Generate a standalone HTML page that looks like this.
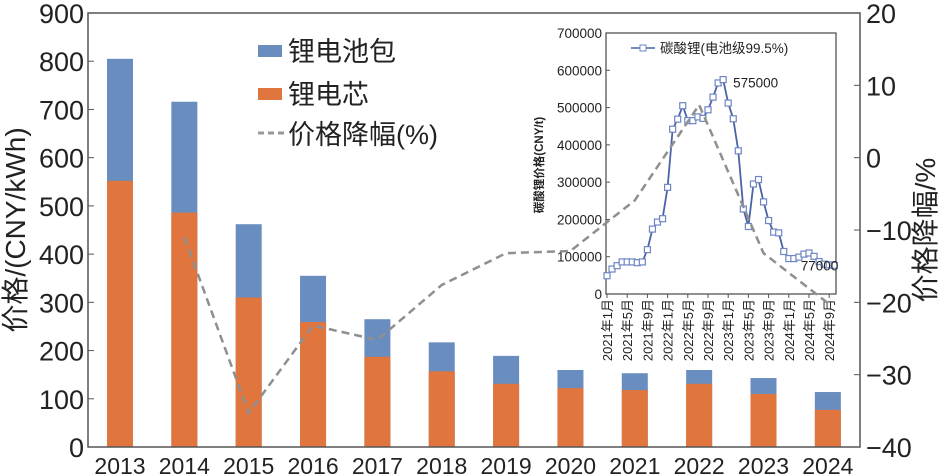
<!DOCTYPE html>
<html><head><meta charset="utf-8"><style>
html,body{margin:0;padding:0;background:#fff;}
svg{display:block;font-family:"Liberation Sans","Noto Sans CJK SC",sans-serif;}
</style></head><body>
<svg id="c" width="944" height="476" viewBox="0 0 944 476" xmlns="http://www.w3.org/2000/svg">
<g id="bars"></g>
<g id="axes"></g>
<g id="inset"></g>
<g id="pct"></g>
<g>
  <rect x="258" y="45" width="24" height="12" fill="#6a8dbf"/>
  <text x="288" y="61" font-size="27" fill="#222">锂电池包</text>
  <rect x="258" y="88" width="24" height="12" fill="#e0763e"/>
  <text x="288" y="104" font-size="27" fill="#222">锂电芯</text>
  <line x1="258" y1="133" x2="284" y2="133" stroke="#999" stroke-width="3" stroke-dasharray="6,4"/>
  <text x="288" y="144" font-size="27" fill="#222">价格降幅(%)</text>
</g>
</svg>
<script>
const years = ["2013","2014","2015","2016","2017","2018","2019","2020","2021","2022","2023","2024"];
const packPrice = [805,716,462,355,265,217,189,164,153,161,143,114];
const cellPrice = [552,486,310,259,187,157,131,122,118,131,110,77];
const declineYears = ["2014","2015","2016","2017","2018","2019","2020","2021","2022","2023","2024"];
const declinePct = [-11,-35.3,-23.2,-25.2,-17.6,-13.2,-12.9,-5.9,7.3,-13.2,-20.1];
const leftTicks = [0,100,200,300,400,500,600,700,800,900];
const rightTicks = [20,10,0,-10,-20,-30,-40];
const liPrice = [49000,67000,76000,86000,86000,86000,84000,86000,119000,174000,193000,202000,286000,442000,469000,505000,465000,465000,475000,471000,494000,528000,566000,575000,512000,470000,384000,228000,181000,295000,307000,247000,197000,166000,164000,114000,95000,95000,99000,107000,110000,101000,87000,80000,78000,77000];
const insetYTicks = [0,100000,200000,300000,400000,500000,600000,700000];
const insetXLabels = ["2021年1月","2021年5月","2021年9月","2022年1月","2022年5月","2022年9月","2023年1月","2023年5月","2023年9月","2024年1月","2024年5月","2024年9月"];

const NS="http://www.w3.org/2000/svg";
function mk(p,t,a){const e=document.createElementNS(NS,t);for(const k in a)e.setAttribute(k,a[k]);p.appendChild(e);return e;}
const L=88,R=860,T=13,B=447;
const x=i=>120+i*64.35;
const yL=v=>B-v*(B-T)/900;
const yR=v=>T+(20-v)*(B-T)/60;

const bars=document.getElementById('bars');
years.forEach((yr,i)=>{
  const p=mk(bars,'rect',{x:x(i)-13,y:yL(packPrice[i]),width:26,height:yL(0)-yL(packPrice[i]),fill:'#6a8dbf'});
  
  
  const c=mk(bars,'rect',{x:x(i)-13,y:yL(cellPrice[i]),width:26,height:yL(0)-yL(cellPrice[i]),fill:'#e0763e'});
  
  
});

const ax=document.getElementById('axes');
mk(ax,'rect',{x:L,y:T,width:R-L,height:B-T,fill:'none',stroke:'#555','stroke-width':1.5});
leftTicks.forEach(v=>{
  mk(ax,'line',{x1:L,x2:L+6,y1:yL(v),y2:yL(v),stroke:'#555'});
  const t=mk(ax,'text',{x:L-4,y:yL(v)+10,'font-size':27,'text-anchor':'end',fill:'#222'});
  t.textContent=v;
  
  
});
rightTicks.forEach(v=>{
  mk(ax,'line',{x1:R-6,x2:R,y1:yR(v),y2:yR(v),stroke:'#555'});
  const t=mk(ax,'text',{x:R+6,y:yR(v)+10,'font-size':27,fill:'#222'});
  t.textContent=(v<0?'\u2212'+(-v):v);
  
  
});
years.forEach((yr,i)=>{
  const t=mk(ax,'text',{x:x(i),y:474,'font-size':23,'text-anchor':'middle',fill:'#222'});
  t.textContent=yr;
  
  
});
let lt=mk(ax,'text',{x:0,y:0,'font-size':28,'text-anchor':'middle',fill:'#222',transform:'translate(25,230) rotate(-90)'});
lt.textContent='价格/(CNY/kWh)';


let rt=mk(ax,'text',{x:0,y:0,'font-size':28,'text-anchor':'middle',fill:'#222',transform:'translate(935,230) rotate(-90)'});
rt.textContent='价格降幅/%';



// inset
const ins=document.getElementById('inset');
const IL=606,IR=836,IT=33,IB=294;
mk(ins,'rect',{x:535,y:18,width:318,height:352,fill:'#fff'});
const ix=m=>IL+1+m*5.05;
const iy=v=>IB-v*(IB-IT)/700000;
mk(ins,'rect',{x:IL,y:IT,width:IR-IL,height:IB-IT,fill:'none',stroke:'#555','stroke-width':1.3});
insetYTicks.forEach(v=>{
  mk(ins,'line',{x1:IL,x2:IL+4,y1:iy(v),y2:iy(v),stroke:'#555'});
  const t=mk(ins,'text',{x:IL-4,y:iy(v)+5,'font-size':13.5,'text-anchor':'end',fill:'#222'});
  t.textContent=v;
  
  
});
insetXLabels.forEach((lab,i)=>{
  const xx=ix(i*4);
  mk(ins,'line',{x1:xx,x2:xx,y1:IB,y2:IB+4,stroke:'#555'});
  const t=mk(ins,'text',{x:0,y:0,'font-size':13,'text-anchor':'end',fill:'#222',transform:`translate(${xx+5},${IB+5}) rotate(-90)`});
  t.textContent=lab;
  
  
});
let iyt=mk(ins,'text',{x:0,y:0,'font-size':11.5,'font-weight':'bold','text-anchor':'middle',fill:'#222',transform:'translate(543,165) rotate(-90)'});
iyt.textContent='碳酸锂价格(CNY/t)';


const pts=liPrice.map((v,i)=>ix(i)+','+iy(v)).join(' ');
const pl=mk(ins,'polyline',{points:pts,fill:'none',stroke:'#4a63a8','stroke-width':1.8});


liPrice.forEach((v,i)=>{
  const r=mk(ins,'rect',{x:ix(i)-3,y:iy(v)-3,width:6,height:6,fill:'#fff',stroke:'#6f86c4','stroke-width':1.2});
  
  
});
mk(ins,'line',{x1:631,x2:655,y1:48,y2:48,stroke:'#4a63a8','stroke-width':1.5});
mk(ins,'rect',{x:640,y:45,width:6,height:6,fill:'#fff',stroke:'#6f86c4'});
let il=mk(ins,'text',{x:660,y:53,'font-size':13.5,fill:'#222'});
il.textContent='碳酸锂(电池级99.5%)';


const mx=liPrice.indexOf(Math.max(...liPrice));
let a1=mk(ins,'text',{x:ix(mx)+10,y:iy(liPrice[mx])+8,'font-size':13.5,fill:'#222'});
a1.textContent=String(liPrice[mx]);


const last=liPrice.length-1;
let a2=mk(ins,'text',{x:ix(last)+4,y:iy(liPrice[last])+5,'font-size':13.5,'text-anchor':'end',fill:'#222'});
a2.textContent=String(liPrice[last]);



// decline line
const pg=document.getElementById('pct');
const dp=declinePct.map((v,i)=>x(years.indexOf(declineYears[i]))+','+yR(v)).join(' ');
const dl=mk(pg,'polyline',{points:dp,fill:'none',stroke:'#8f8f8f','stroke-width':2.5,'stroke-dasharray':'8,5'});


</script>
</body></html>
